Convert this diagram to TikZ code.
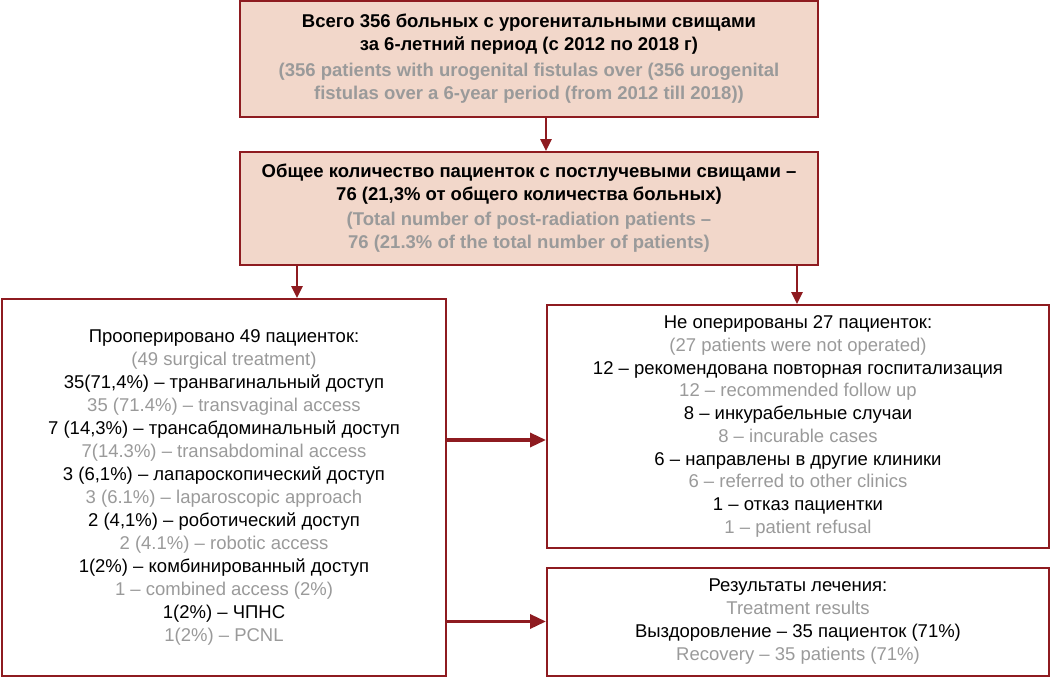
\documentclass[tikz,border=0pt]{standalone}
\usepackage{fontspec}
\setmainfont{Liberation Sans}
\usetikzlibrary{arrows.meta}
\definecolor{bred}{HTML}{8E1B20}
\definecolor{bfill}{HTML}{F2D7CA}
\definecolor{tgray}{HTML}{9A9A9A}
\tikzset{
  box/.style={draw=bred, line width=2pt, align=center, inner sep=0pt,
    font=\fontsize{18.5}{23}\selectfont},
  topbox/.style={box, fill=bfill, font=\fontsize{18.5}{23}\selectfont\bfseries},
  arr/.style={draw=bred, line width=3.4pt, -{Triangle[length=16pt,width=14pt]}},
  varr/.style={draw=bred, line width=2.6pt, -{Triangle[length=12pt,width=11pt]}},
}
\newcommand{\gr}[1]{\textcolor{tgray}{#1}}
\begin{document}
\begin{tikzpicture}[x=1pt,y=-1pt]
\useasboundingbox (0,0) rectangle (1051,677);
\node[topbox, minimum width=578pt, minimum height=116pt] (b1) at (529,59)
 {Всего 356 больных с урогенитальными свищами\\
  за 6-летний период (с 2012 по 2018 г)\\[3pt]
  \gr{(356 patients with urogenital fistulas over (356 urogenital}\\
  \gr{fistulas over a 6-year period (from 2012 till 2018))}};
\node[topbox, minimum width=578pt, minimum height=113pt] (b2) at (529,208.5)
 {Общее количество пациенток с постлучевыми свищами –\\
  76 (21,3\% от общего количества больных)\\[2pt]
  \gr{(Total number of post-radiation patients –}\\
  \gr{76 (21.3\% of the total number of patients)}};
\node[box, minimum width=444pt, minimum height=377pt] (b3) at (224,487.5)
 {Прооперировано 49 пациенток:\\
  \gr{(49 surgical treatment)}\\
  35(71,4\%) – транвагинальный доступ\\
  \gr{35 (71.4\%) – transvaginal access}\\
  7 (14,3\%) – трансабдоминальный доступ\\
  \gr{7(14.3\%) – transabdominal access}\\
  3 (6,1\%) – лапароскопический доступ\\
  \gr{3 (6.1\%) – laparoscopic approach}\\
  2 (4,1\%) – роботический доступ\\
  \gr{2 (4.1\%) – robotic access}\\
  1(2\%) – комбинированный доступ\\
  \gr{1 – combined access (2\%)}\\
  1(2\%) – ЧПНС\\
  \gr{1(2\%) – PCNL}};
\node[box, minimum width=502pt, minimum height=243pt, font=\fontsize{18.5}{22.7}\selectfont] (b4) at (798,426.5)
 {Не оперированы 27 пациенток:\\
  \gr{(27 patients were not operated)}\\
  12 – рекомендована повторная госпитализация\\
  \gr{12 – recommended follow up}\\
  8 – инкурабельные случаи\\
  \gr{8 – incurable cases}\\
  6 – направлены в другие клиники\\
  \gr{6 – referred to other clinics}\\
  1 – отказ пациентки\\
  \gr{1 – patient refusal}};
\node[box, minimum width=502pt, minimum height=108pt] (b5) at (798,621.5)
 {Результаты лечения:\\
  \gr{Treatment results}\\
  Выздоровление – 35 пациенток (71\%)\\
  \gr{Recovery – 35 patients (71\%)}};
\coordinate (v1) at (546,0);
\coordinate (v2) at (297,0);
\coordinate (v3) at (797,0);
\coordinate (h1) at (0,440);
\draw[varr] (b1.south -| v1) -- (b2.north -| v1);
\draw[varr] (b2.south -| v2) -- (b3.north -| v2);
\draw[varr] (b2.south -| v3) -- (b4.north -| v3);
\draw[arr] (b3.east |- h1) -- (b4.west |- h1);
\draw[arr] (b3.east |- b5.west) -- (b5.west);
\end{tikzpicture}
\end{document}
